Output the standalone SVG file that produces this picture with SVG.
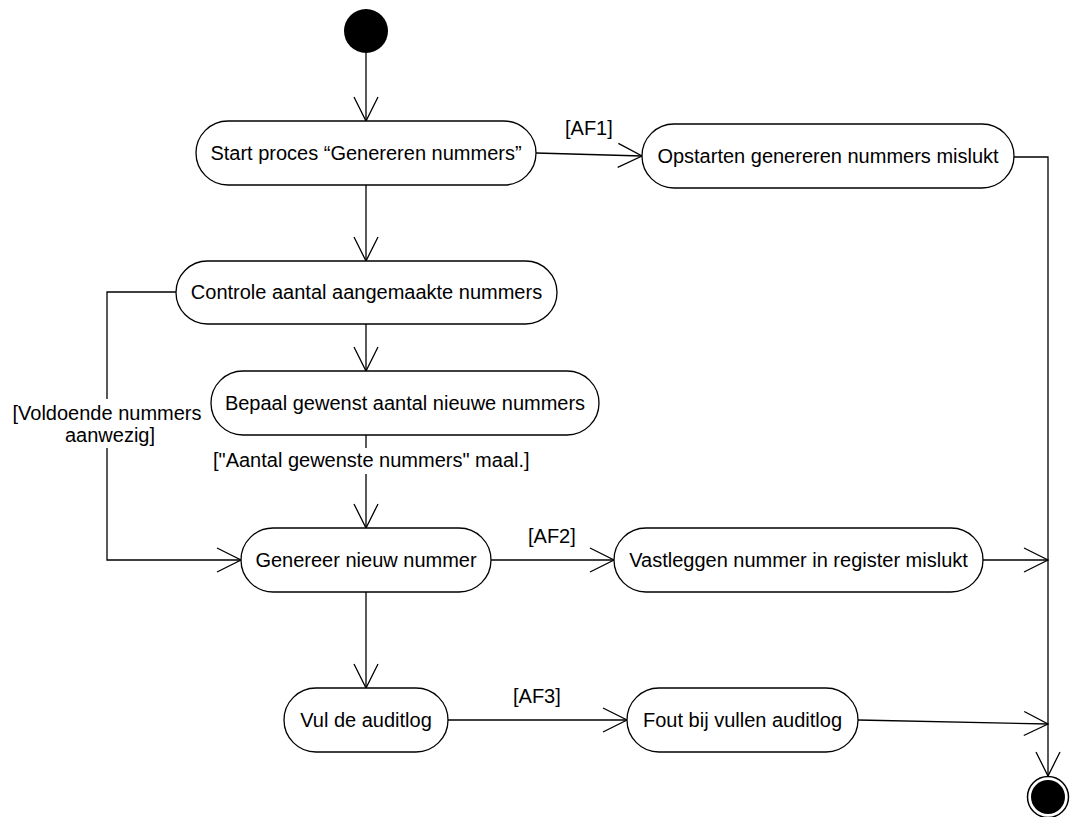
<svg xmlns="http://www.w3.org/2000/svg" width="1071" height="817" viewBox="0 0 1071 817">
<style>
.n{fill:#fff;stroke:#000;stroke-width:1.3}
.t{font-family:"Liberation Sans",Arial,sans-serif;font-size:20px;fill:#000}
.c{text-anchor:middle}
.e{fill:none;stroke:#000;stroke-width:1.3}
</style>
<defs>
<marker id="a" viewBox="-26 -14 28 28" refX="0" refY="0" markerWidth="28" markerHeight="28" markerUnits="userSpaceOnUse" orient="auto">
<path d="M-24,-12 L0,0 L-24,12" fill="none" stroke="#000" stroke-width="1.3"/>
</marker>
</defs>
<rect width="1071" height="817" fill="#fff"/>
<g id="connectors">
<line class="e" x1="366" y1="53" x2="366" y2="121" marker-end="url(#a)"/>
<line class="e" x1="536" y1="153" x2="642" y2="156" marker-end="url(#a)"/>
<polyline class="e" points="1014,157 1048,157 1048,776" marker-end="url(#a)"/>
<line class="e" x1="366" y1="185" x2="366" y2="261" marker-end="url(#a)"/>
<polyline class="e" points="176,292 107,292 107,560 241,560" marker-end="url(#a)"/>
<line class="e" x1="366" y1="324" x2="366" y2="371" marker-end="url(#a)"/>
<line class="e" x1="366" y1="435" x2="366" y2="528" marker-end="url(#a)"/>
<line class="e" x1="491" y1="560" x2="614" y2="560" marker-end="url(#a)"/>
<line class="e" x1="983" y1="560" x2="1048" y2="560" marker-end="url(#a)"/>
<line class="e" x1="366" y1="592" x2="366" y2="688" marker-end="url(#a)"/>
<line class="e" x1="448" y1="720" x2="627" y2="720" marker-end="url(#a)"/>
<line class="e" x1="858" y1="720" x2="1048" y2="724" marker-end="url(#a)"/>
<rect x="6" y="399" width="202" height="49" fill="#fff"/>
<text class="t c" x="107" y="420">[Voldoende nummers</text>
<text class="t c" x="110" y="442">aanwezig]</text>
<rect x="210" y="448" width="322" height="26" fill="#fff"/>
<text class="t" x="213" y="467">["Aantal gewenste nummers" maal.]</text>
<text class="t" x="565" y="135">[AF1]</text>
<text class="t" x="528" y="543">[AF2]</text>
<text class="t" x="513" y="703">[AF3]</text>
</g>
<g id="initial"><circle cx="366" cy="31" r="22" fill="#000"/></g>
<g id="start"><rect class="n" x="196" y="121" width="340" height="64" rx="32"/><text class="t c" x="366" y="160">Start proces “Genereren nummers”</text></g>
<g id="opstarten"><rect class="n" x="642" y="124" width="372" height="64" rx="32"/><text class="t c" x="828" y="163">Opstarten genereren nummers mislukt</text></g>
<g id="controle"><rect class="n" x="176" y="261" width="381" height="63" rx="31.5"/><text class="t c" x="366.5" y="299">Controle aantal aangemaakte nummers</text></g>
<g id="bepaal"><rect class="n" x="211" y="371" width="388" height="64" rx="32"/><text class="t c" x="405" y="410">Bepaal gewenst aantal nieuwe nummers</text></g>
<g id="genereer"><rect class="n" x="241" y="528" width="250" height="64" rx="32"/><text class="t c" x="366" y="567">Genereer nieuw nummer</text></g>
<g id="vastleggen"><rect class="n" x="614" y="528" width="369" height="64" rx="32"/><text class="t c" x="798.5" y="567">Vastleggen nummer in register mislukt</text></g>
<g id="vul"><rect class="n" x="284" y="688" width="164" height="64" rx="32"/><text class="t c" x="366" y="727">Vul de auditlog</text></g>
<g id="fout"><rect class="n" x="627" y="688" width="231" height="64" rx="32"/><text class="t c" x="742.5" y="727">Fout bij vullen auditlog</text></g>
<g id="final"><circle cx="1048" cy="797" r="20.5" fill="#fff" stroke="#000" stroke-width="1.5"/><circle cx="1048" cy="797" r="17" fill="#000"/></g>
</svg>
